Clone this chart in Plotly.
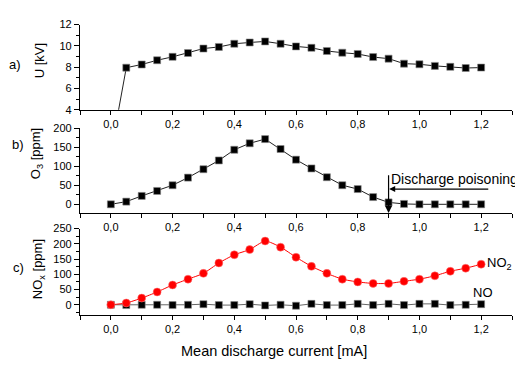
import plotly.graph_objects as go

# The page body has an 8 px margin; coordinates below are page pixels.
OFF = 8
W, H = 523 - OFF, 365 - OFF

# ---- data ----
current = [0.0, 0.05, 0.1, 0.15, 0.2, 0.25, 0.3, 0.35, 0.4, 0.45, 0.5, 0.55, 0.6,
           0.65, 0.7, 0.75, 0.8, 0.85, 0.9, 0.95, 1.0, 1.05, 1.1, 1.15, 1.2]
voltage_kv = [0.0, 7.95, 8.25, 8.65, 8.97, 9.33, 9.75, 9.9, 10.2, 10.32, 10.42, 10.2, 9.95,
              9.82, 9.52, 9.36, 9.24, 8.95, 8.8, 8.33, 8.27, 8.12, 8.03, 7.92, 7.96]
ozone_ppm = [0, 7, 22, 35, 50, 70, 92, 115, 143, 160, 171, 145, 117,
             94, 71, 50, 40, 19, 5, 1, 0, 0, 0, 0, 0]
no2_ppm = [0, 6, 22, 42, 65, 84, 103, 137, 164, 181, 209, 189, 156,
           126, 103, 84, 75, 70, 70, 77, 84, 95, 110, 120, 133]
no_ppm = [0, -1, 0, 0, -1, 0, 2, -1, -1, 2, -2, 0, -3,
          3, -1, -1, 3, -1, 3, -1, 3, 3, -1, 0, 2]

x_major = [0.0, 0.2, 0.4, 0.6, 0.8, 1.0, 1.2]
x_major_text = ["0,0", "0,2", "0,4", "0,6", "0,8", "1,0", "1,2"]
x_minor = [-0.1, 0.1, 0.3, 0.5, 0.7, 0.9, 1.1, 1.3]

FONT = "Liberation Sans, Arial, sans-serif"

def px(x):
    return (x - OFF) / W

def py(y):
    return 1 - (y - OFF) / H

fig = go.Figure()

sq = dict(symbol="square", size=7, color="black", line=dict(color="#888", width=0.6))

fig.add_trace(go.Scatter(x=current, y=voltage_kv, mode="lines+markers",
                         line=dict(color="#222", width=1), marker=sq,
                         xaxis="x", yaxis="y", showlegend=False))
fig.add_trace(go.Scatter(x=current, y=ozone_ppm, mode="lines+markers",
                         line=dict(color="#222", width=1), marker=sq,
                         xaxis="x2", yaxis="y2", showlegend=False))
fig.add_trace(go.Scatter(x=current, y=no_ppm, mode="lines+markers",
                         line=dict(color="#666", width=1), marker=sq,
                         xaxis="x3", yaxis="y3", showlegend=False))
fig.add_trace(go.Scatter(x=current, y=no2_ppm, mode="lines+markers",
                         line=dict(color="#ff0000", width=1, shape="spline", smoothing=0.6),
                         marker=dict(symbol="circle", size=8, color="#ff0000",
                                     line=dict(color="#ff8080", width=0.5)),
                         xaxis="x3", yaxis="y3", showlegend=False))

xdom = [px(80), px(512)]

def xaxis(anchor):
    return dict(domain=xdom, range=[-0.1, 1.3], anchor=anchor,
                tickmode="array", tickvals=x_major, ticktext=x_major_text,
                ticks="outside", ticklen=4, tickwidth=1, tickcolor="black",
                minor=dict(tickvals=x_minor, ticks="outside", ticklen=4, tickwidth=1, tickcolor="black"),
                showline=True, linecolor="black", linewidth=1.2,
                showgrid=False, zeroline=False,
                tickfont=dict(family=FONT, size=11, color="black"))

def yaxis(anchor, dom, rng, dtick, tick0, mdtick):
    return dict(domain=dom, range=rng, anchor=anchor,
                tickmode="linear", tick0=tick0, dtick=dtick,
                ticks="outside", ticklen=5, tickwidth=1, tickcolor="black",
                minor=dict(tick0=tick0, dtick=mdtick, ticks="outside", ticklen=3, tickwidth=1, tickcolor="black"),
                showline=True, linecolor="black", linewidth=1.2,
                showgrid=False, zeroline=False,
                tickfont=dict(family=FONT, size=11, color="black"))

fig.update_layout(
    width=W, height=H,
    margin=dict(l=0, r=0, t=0, b=0),
    paper_bgcolor="white", plot_bgcolor="white",
    font=dict(family=FONT, color="black"),
    xaxis=xaxis("y"),
    xaxis2=xaxis("y2"),
    xaxis3=xaxis("y3"),
    yaxis=yaxis("x", [py(107), py(19)], [4, 12], 2, 4, 1),
    yaxis2=yaxis("x2", [py(214), py(126)], [-23, 200], 50, 0, 25),
    yaxis3=yaxis("x3", [py(319), py(230)], [-32, 250], 50, 0, 25),
)

ann = []
def label(text, x, y, size=13, angle=0, xanchor="center"):
    ann.append(dict(text=text, x=px(x), y=py(y), xref="paper", yref="paper",
                    showarrow=False, textangle=angle, xanchor=xanchor, yanchor="middle",
                    font=dict(family=FONT, size=size, color="black")))

label("a)", 15, 60)
label("b)", 18, 143)
label("c)", 18, 270)
label("U [kV]", 39, 57, size=13, angle=-90)
label("O<sub>3</sub> [ppm]", 36, 153, size=13, angle=-90)
label("NO<sub>x</sub> [ppm]", 38, 272, size=13, angle=-90)
label("Mean discharge current [mA]", 274, 357, size=14.5)
label("Discharge poisoning", 389, 179, size=14, xanchor="left")
label("NO<sub>2</sub>", 485, 266, size=13, xanchor="left")
label("NO", 471, 296, size=13, xanchor="left")

# arrows in panel b
ann.append(dict(x=0.9, y=-23, ax=0.9, ay=80, xref="x2", yref="y2", axref="x2", ayref="y2",
                text="", showarrow=True, arrowhead=2, arrowsize=1.2, arrowwidth=1.2, arrowcolor="black"))
ann.append(dict(x=0.902, y=40, ax=1.228, ay=40, xref="x2", yref="y2", axref="x2", ayref="y2",
                text="", showarrow=True, arrowhead=2, arrowsize=1.0, arrowwidth=1.2, arrowcolor="black"))

fig.update_layout(annotations=ann)

fig.write_html("out.html")
